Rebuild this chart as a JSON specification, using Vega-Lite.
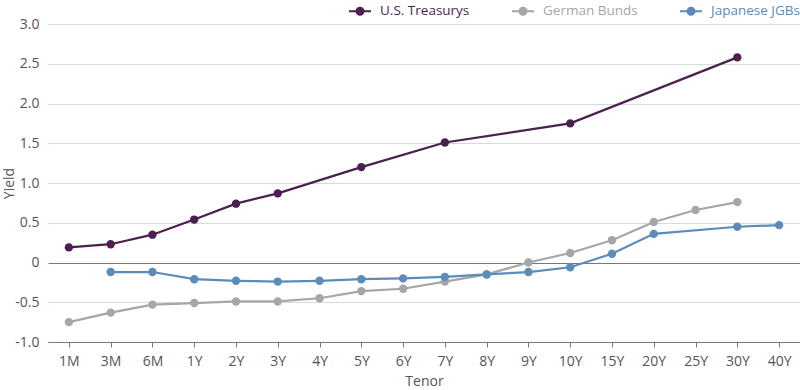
{
  "$schema": "https://vega.github.io/schema/vega-lite/v6.json",
  "width": 752,
  "height": 318,
  "autosize": {"type": "none"},
  "padding": {"left": 48, "top": 24, "right": 0, "bottom": 48},
  "background": "white",
  "config": {
    "view": {"stroke": null},
    "font": "Open Sans",
    "axis": {"labelFont": "Open Sans", "titleFont": "Open Sans"},
    "legend": {"labelFont": "Open Sans"}
  },
  "data": {
    "values": [
      {"tenor": "1M", "series": "U.S. Treasurys", "yield": 0.19},
      {"tenor": "3M", "series": "U.S. Treasurys", "yield": 0.23},
      {"tenor": "6M", "series": "U.S. Treasurys", "yield": 0.35},
      {"tenor": "1Y", "series": "U.S. Treasurys", "yield": 0.54},
      {"tenor": "2Y", "series": "U.S. Treasurys", "yield": 0.74},
      {"tenor": "3Y", "series": "U.S. Treasurys", "yield": 0.87},
      {"tenor": "5Y", "series": "U.S. Treasurys", "yield": 1.2},
      {"tenor": "7Y", "series": "U.S. Treasurys", "yield": 1.51},
      {"tenor": "10Y", "series": "U.S. Treasurys", "yield": 1.75},
      {"tenor": "30Y", "series": "U.S. Treasurys", "yield": 2.58},
      {"tenor": "1M", "series": "German Bunds", "yield": -0.75},
      {"tenor": "3M", "series": "German Bunds", "yield": -0.63},
      {"tenor": "6M", "series": "German Bunds", "yield": -0.53},
      {"tenor": "1Y", "series": "German Bunds", "yield": -0.51},
      {"tenor": "2Y", "series": "German Bunds", "yield": -0.49},
      {"tenor": "3Y", "series": "German Bunds", "yield": -0.49},
      {"tenor": "4Y", "series": "German Bunds", "yield": -0.45},
      {"tenor": "5Y", "series": "German Bunds", "yield": -0.36},
      {"tenor": "6Y", "series": "German Bunds", "yield": -0.33},
      {"tenor": "7Y", "series": "German Bunds", "yield": -0.24},
      {"tenor": "8Y", "series": "German Bunds", "yield": -0.15},
      {"tenor": "9Y", "series": "German Bunds", "yield": 0.0},
      {"tenor": "10Y", "series": "German Bunds", "yield": 0.12},
      {"tenor": "15Y", "series": "German Bunds", "yield": 0.28},
      {"tenor": "20Y", "series": "German Bunds", "yield": 0.51},
      {"tenor": "25Y", "series": "German Bunds", "yield": 0.66},
      {"tenor": "30Y", "series": "German Bunds", "yield": 0.76},
      {"tenor": "3M", "series": "Japanese JGBs", "yield": -0.12},
      {"tenor": "6M", "series": "Japanese JGBs", "yield": -0.12},
      {"tenor": "1Y", "series": "Japanese JGBs", "yield": -0.21},
      {"tenor": "2Y", "series": "Japanese JGBs", "yield": -0.23},
      {"tenor": "3Y", "series": "Japanese JGBs", "yield": -0.24},
      {"tenor": "4Y", "series": "Japanese JGBs", "yield": -0.23},
      {"tenor": "5Y", "series": "Japanese JGBs", "yield": -0.21},
      {"tenor": "6Y", "series": "Japanese JGBs", "yield": -0.2},
      {"tenor": "7Y", "series": "Japanese JGBs", "yield": -0.18},
      {"tenor": "8Y", "series": "Japanese JGBs", "yield": -0.15},
      {"tenor": "9Y", "series": "Japanese JGBs", "yield": -0.12},
      {"tenor": "10Y", "series": "Japanese JGBs", "yield": -0.06},
      {"tenor": "15Y", "series": "Japanese JGBs", "yield": 0.11},
      {"tenor": "20Y", "series": "Japanese JGBs", "yield": 0.36},
      {"tenor": "30Y", "series": "Japanese JGBs", "yield": 0.45},
      {"tenor": "40Y", "series": "Japanese JGBs", "yield": 0.47}
    ]
  },
  "mark": {"type": "line", "strokeWidth": 2.2, "point": {"filled": true, "size": 70, "opacity": 1}},
  "encoding": {
    "x": {
      "field": "tenor",
      "type": "ordinal",
      "sort": ["1M", "3M", "6M", "1Y", "2Y", "3Y", "4Y", "5Y", "6Y", "7Y", "8Y", "9Y", "10Y", "15Y", "20Y", "25Y", "30Y", "40Y"],
      "scale": {"type": "point", "padding": 0.5},
      "axis": {
        "title": "Tenor",
        "titleFontWeight": "normal",
        "titleFontSize": 14,
        "titleColor": "#555555",
        "titlePadding": 6,
        "labelAngle": 0,
        "labelFontSize": 14,
        "labelColor": "#555555",
        "labelPadding": 7,
        "domainColor": "#777777",
        "tickColor": "#777777",
        "tickSize": 5,
        "grid": false
      }
    },
    "y": {
      "field": "yield",
      "type": "quantitative",
      "scale": {"domain": [-1, 3], "nice": false, "zero": false},
      "axis": {
        "title": "Yield",
        "titleFontWeight": "normal",
        "titleFontSize": 14,
        "titleColor": "#555555",
        "titleX": -39,
        "titleBaseline": "middle",
        "values": [-1, -0.5, 0, 0.5, 1, 1.5, 2, 2.5, 3],
        "labelExpr": "datum.value == 0 ? '0' : (datum.value < 0 ? '-' : '') + format(abs(datum.value), '.1f')",
        "labelFontSize": 14,
        "labelColor": "#555555",
        "labelPadding": 9,
        "ticks": false,
        "domain": false,
        "grid": true,
        "gridColor": {"condition": {"test": "datum.value == 0 || datum.value == -1", "value": "#777777"}, "value": "#d9d9d9"},
        "gridWidth": 1
      }
    },
    "color": {
      "field": "series",
      "type": "nominal",
      "scale": {
        "domain": ["U.S. Treasurys", "German Bunds", "Japanese JGBs"],
        "range": ["#4b1f4e", "#a6a6a6", "#5b8cba"]
      },
      "legend": {
        "title": null,
        "orient": "none",
        "legendX": 300,
        "legendY": -25,
        "direction": "horizontal",
        "symbolType": "M-1,0H1M0.32,0A0.32,0.32 0 1,1 -0.32,0A0.32,0.32 0 1,1 0.32,0Z",
        "symbolSize": 484,
        "symbolStrokeWidth": 2,
        "labelFontSize": 13.5,
        "labelOffset": 8,
        "columnPadding": 38,
        "encode": {
          "labels": {"update": {"fill": {"scale": "color", "field": "value"}}},
          "symbols": {"update": {"fill": {"scale": "color", "field": "value"}, "fillOpacity": {"value": 1}}}
        }
      }
    }
  }
}
